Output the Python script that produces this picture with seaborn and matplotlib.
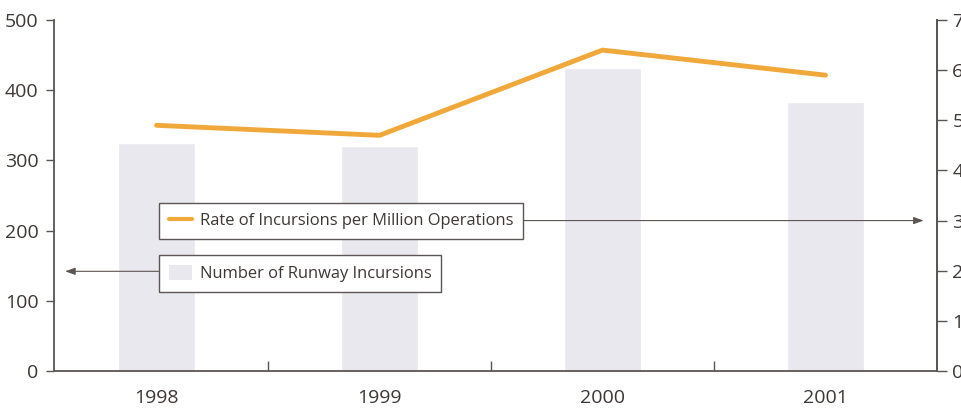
import matplotlib
matplotlib.use("Agg")
import matplotlib.pyplot as plt
import seaborn as sns
import numpy as np
import pandas as pd
from matplotlib.lines import Line2D
from matplotlib.patches import Patch

years = ["1998", "1999", "2000", "2001"]
incursions = [325, 320, 432, 383]
rates = [4.9, 4.7, 6.4, 5.9]
left_ticks = [0, 100, 200, 300, 400, 500]
right_ticks = [0, 1, 2, 3, 4, 5, 6, 7]

sns.set_theme(style="white")
plt.rcParams['font.family'] = ['Open Sans', 'DejaVu Sans']

AX_COL = "#5b5553"
TXT_COL = "#3d3735"
BAR_COL = "#e9e8ef"
LINE_COL = "#f0a83a"

fig = plt.figure(figsize=(9.61, 4.11), dpi=100)
ax = fig.add_axes([54/961, 40/411, 883/961, 351/411])

df = pd.DataFrame({"year": years, "count": incursions})
sns.barplot(data=df, x="year", y="count", color=BAR_COL, width=0.345,
            saturation=1, ax=ax)
ax.set_xlim(-0.46, 3.5)
ax.set_ylim(0, 500)
ax.set_yticks(left_ticks)
ax.set_xlabel("")
ax.set_ylabel("")

ax.set_xticks([0.5, 1.5, 2.5])
ax.set_xticklabels([])
ax.set_xticks(range(len(years)), minor=True)
ax.set_xticklabels(years, minor=True)
ax.tick_params(axis="x", which="major", direction="in", length=7, width=1,
               color=AX_COL, bottom=True)
ax.tick_params(axis="x", which="minor", length=0, pad=13, labelsize=14,
               labelcolor=TXT_COL)
ax.tick_params(axis="y", direction="out", length=6, width=1, color=AX_COL,
               left=True, pad=5, labelsize=14, labelcolor=TXT_COL)

ax.spines["top"].set_visible(False)
for s in ["left", "bottom", "right"]:
    ax.spines[s].set_color(AX_COL)
    ax.spines[s].set_linewidth(1.3)
    ax.spines[s].set_visible(True)

ax2 = ax.twinx()
sns.lineplot(x=np.arange(len(years)), y=rates, color=LINE_COL, linewidth=3.5,
             ax=ax2)
ax2.set_ylim(0, 7)
ax2.set_yticks(right_ticks)
ax2.tick_params(axis="y", direction="out", length=7, width=1, color=AX_COL,
                right=True, pad=4, labelsize=14, labelcolor=TXT_COL)
for s in ["top", "left", "bottom"]:
    ax2.spines[s].set_visible(False)
ax2.spines["right"].set_color(AX_COL)
ax2.spines["right"].set_linewidth(1.3)
ax2.set_xlim(-0.46, 3.5)

common = dict(loc="upper left", borderaxespad=0, fancybox=False, frameon=True,
              edgecolor=AX_COL, facecolor="white", framealpha=1.0,
              fontsize=11.9, handlelength=1.4, handletextpad=0.45,
              borderpad=0.6, labelcolor=TXT_COL)

leg1 = ax2.legend(handles=[Line2D([], [], color=LINE_COL, lw=3)],
                  labels=["Rate of Incursions per Million Operations"],
                  bbox_to_anchor=(0.119, 0.479), **common)
leg1.get_frame().set_linewidth(1.0)
ax2.add_artist(leg1)
leg2 = ax2.legend(handles=[Patch(facecolor=BAR_COL, edgecolor="none")],
                  labels=["Number of Runway Incursions"],
                  bbox_to_anchor=(0.119, 0.330), handleheight=1.0, **common)
leg2.get_frame().set_linewidth(1.0)

ax2.annotate("", xy=(3.44, 3), xytext=(1.637, 3),
             arrowprops=dict(arrowstyle="-|>,head_length=0.5,head_width=0.18",
                             color=AX_COL, lw=0.8, shrinkA=0, shrinkB=0))
ax.annotate("", xy=(-0.41, 142), xytext=(0.009, 142),
            arrowprops=dict(arrowstyle="-|>,head_length=0.5,head_width=0.18",
                            color=AX_COL, lw=0.8, shrinkA=0, shrinkB=0))

fig.savefig("out.png", dpi=100)
